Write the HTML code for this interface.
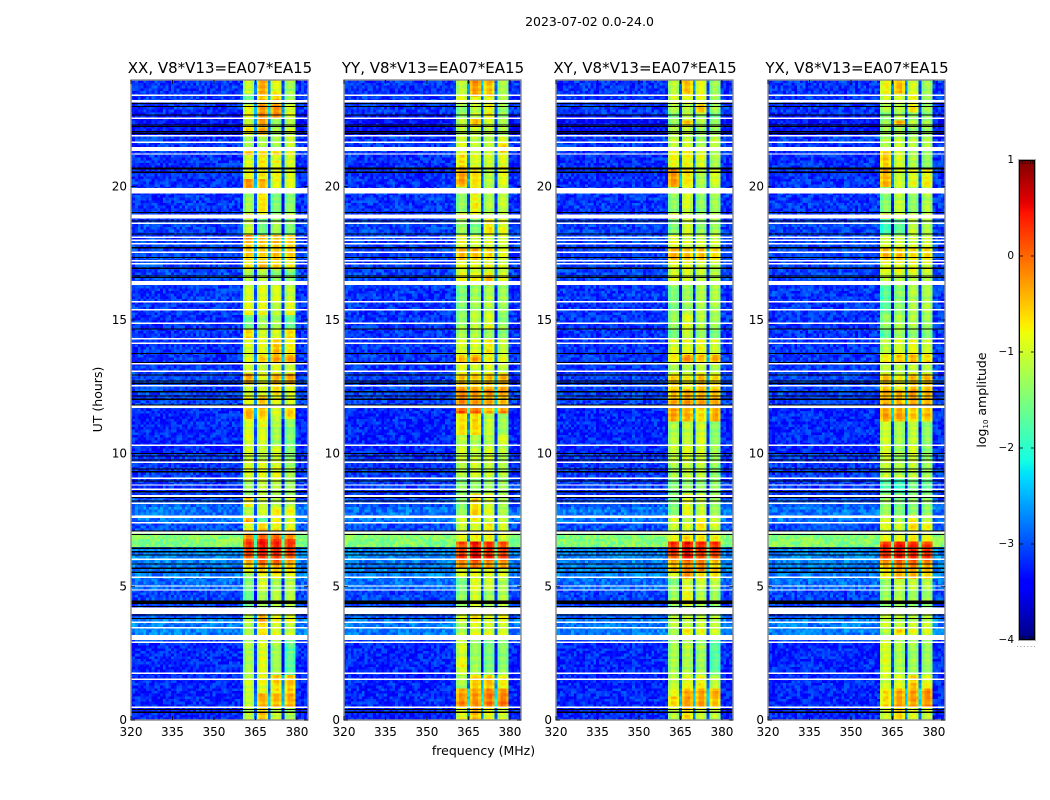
<!DOCTYPE html>
<html lang="en">
<head>
<meta charset="utf-8">
<title>2023-07-02 0.0-24.0 amplitude waterfall</title>
<style>
html,body{margin:0;padding:0;background:#fff;}
svg{display:block;}
text{font-family:"DejaVu Sans","Liberation Sans",sans-serif;fill:#000;}
</style>
</head>
<body>
<svg id="figure" xmlns="http://www.w3.org/2000/svg" width="1050" height="800" viewBox="0 0 1050 800">
  <rect x="0" y="0" width="1050" height="800" fill="#fff"/>
  <text x="589.5" y="26" font-size="12.5" text-anchor="middle">2023-07-02 0.0-24.0</text>
  <text transform="translate(102,399.5) rotate(-90)" font-size="12.5" text-anchor="middle">UT (hours)</text>
  <text x="483.5" y="755" font-size="12.5" text-anchor="middle">frequency (MHz)</text>
  <text transform="translate(986,400) rotate(-90)" font-size="12.5" text-anchor="middle">log<tspan font-size="7" dy="2">10</tspan><tspan dy="-2"> amplitude</tspan></text>
  <g id="panels"></g>
  <g id="colorbar"></g>
</svg>
<script>
/* ---------- chart data (in data units) ---------- */
const panelNames = ['XX', 'YY', 'XY', 'YX'];
const panelTitleSuffix = ', V8*V13=EA07*EA15';
const freqTicks = [320, 335, 350, 365, 380];
const utTicks = [0, 5, 10, 15, 20];
const colorTicks = [1, 0, -1, -2, -3, -4];
const colorTickLabels = ['1', '0', '\u22121', '\u22122', '\u22123', '\u22124'];

/* off-band log10 amplitude: [UT start, level] */
const offBandLevels = [
 [0,-3.2],[2.9,-3.05],[3.2,-2.75],[3.8,-2.95],[4.2,-3.05],[4.9,-2.85],[5.3,-2.75],[6.0,-2.7],[6.5,-1.45],
 [7.0,-3.0],[7.4,-2.8],[8.0,-2.95],[8.3,-3.1],[10.0,-3.2],[11.7,-3.05],[13.0,-3.12],[14.7,-3.12],
 [16.3,-3.05],[18.7,-3.12],[20.0,-3.15],[21.3,-3.1],[21.9,-3.32],[22.7,-3.12]
];

/* in-band levels: [UT start, sub-band 1, 2, 3, 4] */
const bandLevelsXX = [
 [0,-1.2,-0.6,-1.1,-1.3],[0.5,-1.1,-0.4,-0.45,-0.35],[1.0,-1.1,-0.95,-0.7,-0.55],[1.5,-1.15,-0.85,-0.5,-0.5],
 [1.7,-1.25,-0.95,-1.3,-1.75],[3.0,-1.3,-1.0,-1.0,-1.3],[3.2,-1.2,-0.7,-0.95,-1.1],[3.7,-1.2,-0.4,-0.85,-0.9],
 [4.2,-1.7,-1.3,-1.2,-1.2],[4.9,-1.5,-1.0,-1.3,-1.2],[5.3,-1.4,-0.85,-0.8,-0.8],[5.5,-0.8,-0.5,-0.5,-0.6],
 [5.8,-0.5,-0.05,-0.05,-0.4],[6.0,-0.3,0.0,0.05,-0.25],[6.15,0.1,0.2,0.15,0.1],[6.25,0.2,0.4,0.35,0.25],
 [6.85,-0.2,-0.1,-0.1,-0.3],[7.1,-0.9,-0.55,-0.8,-0.9],[7.4,-0.4,-1.6,-0.8,-1.0],
 [7.65,-1.2,-1.0,-0.8,-0.9],[8.0,-0.8,-1.1,-1.2,-1.2],[8.3,-0.6,-1.2,-1.3,-1.0],[8.4,-1.4,-1.1,-1.2,-1.3],
 [9.0,-1.0,-0.95,-0.95,-1.3],[9.7,-1.0,-1.1,-1.0,-1.4],[10.3,-1.0,-1.0,-1.3,-1.5],[11.0,-1.0,-0.9,-1.2,-1.4],
 [11.3,-0.4,-0.6,-1.0,-0.6],[11.7,-0.85,-0.5,-0.9,-1.0],[12.2,-1.1,-1.0,-0.75,-1.0],[12.6,-0.4,-0.9,-0.45,-0.4],
 [13.0,-1.0,-1.1,-0.9,-1.0],[13.4,-1.0,-0.55,-0.35,-0.3],[13.75,-1.0,-0.95,-0.55,-0.8],[14.3,-0.65,-1.0,-0.95,-0.65],
 [14.7,-1.6,-1.3,-1.3,-1.6],[15.2,-0.9,-0.9,-1.2,-0.9],[15.7,-1.0,-0.95,-0.95,-1.1],[16.3,-1.2,-1.1,-1.4,-1.5],
 [16.9,-0.8,-0.45,-0.7,-0.9],[17.2,-0.55,-0.6,-0.5,-0.6],[18.0,-0.25,-0.45,-0.5,-0.6],[18.2,-1.1,-1.6,-1.3,-1.5],
 [18.8,-0.8,-1.0,-1.3,-1.0],[19.0,-1.3,-0.7,-1.5,-1.4],[19.9,-0.3,-0.45,-0.9,-0.9],[20.3,-0.9,-0.8,-0.9,-1.0],
 [20.7,-0.95,-0.8,-0.9,-1.0],[21.2,-0.45,-0.6,-0.6,-0.9],[21.5,-1.3,-1.2,-1.3,-1.1],[21.9,-0.75,-0.4,-1.3,-1.1],
 [22.3,-1.1,-0.35,-1.3,-1.2],[22.6,-0.9,-0.25,-0.25,-0.95],[23.1,-1.6,-0.5,-0.6,-1.3],[23.5,-1.1,-0.4,-0.9,-1.3]
];
const bandLevelsYY = [
 [0,-0.9,-0.5,-0.85,-1.0],[0.5,-0.15,-0.2,-0.1,-0.1],[0.85,-0.35,-0.35,-0.15,-0.2],[1.2,-1.2,-0.55,-0.5,-0.75],
 [1.7,-1.0,-1.3,-1.5,-1.4],[2.0,-0.8,-1.3,-1.5,-1.4],[2.3,-1.0,-1.3,-1.5,-1.4],[3.2,-1.2,-0.9,-0.95,-0.95],
 [3.7,-1.0,-0.65,-1.0,-0.8],[4.2,-1.4,-1.0,-1.3,-1.2],[4.8,-1.5,-1.0,-1.3,-1.2],[4.9,-1.5,-0.9,-1.0,-1.2],
 [5.4,-0.9,-0.9,-0.9,-0.95],[5.75,-0.2,-0.1,-0.3,-0.3],[6.05,0.2,0.5,0.3,0.2],[6.5,0.05,0.4,0.25,0.05],
 [6.75,-0.9,-0.8,-0.8,-1.0],[7.0,0.1,0.15,0.1,0.05],[7.1,-1.1,-1.0,-0.8,-1.0],[7.45,-1.0,-0.8,-1.0,-1.1],
 [7.7,-1.4,-0.6,-0.95,-1.2],[8.5,-1.45,-1.4,-1.35,-1.35],[9.1,-1.2,-1.0,-1.1,-1.2],[9.7,-1.0,-1.1,-1.0,-1.2],
 [10.3,-1.1,-1.2,-1.2,-0.9],[10.7,-0.7,-0.65,-1.1,-1.3],[11.5,0.1,0.0,-0.4,-0.2],[11.7,-0.2,-0.3,-0.4,-0.5],
 [12.2,-0.1,-0.2,-0.1,-0.25],[12.45,-0.5,-0.55,-0.5,-0.4],[13.0,-0.95,-1.0,-1.0,-1.1],[13.4,-0.5,-0.35,-0.85,-0.95],
 [13.7,-1.0,-0.95,-0.75,-1.1],[14.3,-1.2,-1.2,-1.3,-1.4],[14.7,-1.35,-1.1,-0.95,-1.4],[15.3,-1.5,-1.3,-1.2,-1.3],
 [16.3,-0.8,-0.8,-0.5,-0.9],[16.7,-0.9,-0.9,-0.9,-1.0],[17.2,-0.45,-0.5,-0.65,-0.9],[17.7,-0.9,-1.0,-1.0,-1.0],
 [18.2,-1.3,-1.5,-0.7,-0.9],[18.8,-0.6,-0.85,-1.1,-1.1],[19.0,-1.35,-0.8,-1.2,-1.1],[20.0,-0.35,-0.7,-1.2,-0.9],
 [20.7,-0.7,-0.95,-1.0,-0.9],[21.3,-1.0,-1.1,-1.1,-0.6],[21.6,-1.0,-1.1,-1.1,-0.9],[21.9,-1.1,-1.0,-1.1,-1.2],
 [22.3,-1.1,-0.5,-1.0,-1.2],[22.6,-1.4,-1.1,-0.8,-1.35],[23.15,-0.85,-0.9,-0.9,-1.2],[23.45,-1.1,-0.3,-0.5,-1.2]
];
const bandLevelsXY = [
 [0,-1.1,-0.6,-1.0,-1.1],[0.5,-0.6,-0.3,-0.3,-0.5],[0.9,-0.9,-0.4,-0.4,-0.4],[1.2,-1.1,-0.85,-0.8,-1.1],
 [1.7,-1.25,-1.2,-1.3,-1.7],[3.2,-1.3,-0.8,-0.9,-1.0],[3.5,-1.1,-1.1,-1.1,-1.1],[4.0,-1.5,-1.3,-1.3,-1.5],
 [4.3,-1.3,-0.85,-1.2,-1.3],[5.0,-1.5,-1.0,-1.0,-1.1],[5.3,-1.0,-0.3,-0.7,-0.7],[5.6,-0.5,-0.2,-0.2,-0.6],
 [6.05,0.0,0.4,0.1,0.0],[6.25,0.35,0.5,0.35,0.3],[6.75,-0.9,-0.6,-0.7,-0.8],[7.0,0.1,0.1,0.1,0.1],
 [7.1,-1.1,-1.0,-0.7,-1.0],[7.45,-0.9,-1.2,-0.8,-1.0],[7.7,-1.5,-0.9,-1.1,-1.3],[8.5,-1.5,-1.4,-1.4,-1.4],
 [9.1,-1.25,-1.1,-1.1,-1.4],[9.7,-1.1,-0.95,-1.0,-1.3],[10.3,-1.2,-1.1,-1.0,-1.4],[11.25,-0.35,-0.4,-0.7,-0.4],
 [11.7,-0.45,-0.35,-0.35,-0.4],[12.45,-0.6,-0.8,-0.5,-0.65],[13.0,-1.2,-1.2,-1.1,-1.2],[13.4,-0.75,-0.25,-0.5,-0.4],
 [13.7,-0.95,-0.9,-0.85,-1.0],[14.3,-1.5,-1.0,-1.3,-1.5],[14.7,-1.35,-0.95,-1.2,-1.3],[15.3,-1.5,-1.3,-1.2,-1.2],
 [16.3,-1.0,-1.1,-1.2,-1.2],[16.7,-0.9,-0.9,-1.0,-1.1],[17.2,-0.45,-0.55,-0.55,-0.7],[17.7,-0.85,-1.0,-1.0,-1.0],
 [18.2,-1.5,-1.0,-1.4,-1.3],[18.8,-0.7,-1.0,-1.2,-1.1],[19.0,-1.4,-1.0,-1.4,-1.3],[20.0,-0.25,-0.7,-1.2,-0.95],
 [20.7,-0.85,-0.8,-0.95,-1.2],[21.5,-1.1,-1.1,-1.3,-1.1],[21.9,-1.2,-1.1,-1.3,-1.3],[22.3,-1.3,-0.4,-1.2,-1.3],
 [22.5,-1.4,-1.1,-1.2,-1.5],[22.8,-1.2,-1.2,-0.5,-1.3],[23.15,-1.0,-0.9,-0.9,-1.3],[23.5,-1.1,-0.45,-0.85,-1.3]
];
const bandLevelsYX = [
 [0,-1.0,-0.6,-0.9,-1.0],[0.5,-0.7,-0.35,-0.35,-0.25],[1.2,-1.0,-0.9,-0.55,-0.9],[1.7,-0.95,-1.2,-1.3,-1.3],
 [3.2,-1.2,-0.7,-0.9,-1.0],[3.5,-1.0,-1.1,-1.1,-1.1],[4.0,-1.5,-1.4,-1.4,-1.5],[4.3,-1.3,-1.2,-1.3,-1.3],
 [4.9,-1.4,-1.1,-1.1,-1.2],[5.3,-0.8,-0.4,-0.5,-0.6],[5.7,-0.4,-0.1,-0.1,-0.35],[6.05,0.3,0.45,0.35,0.25],
 [6.75,-0.9,-0.9,-0.8,-0.9],[7.0,-0.2,-0.2,-0.2,-0.2],[7.1,-0.9,-1.0,-0.6,-0.8],[7.45,-0.9,-1.2,-0.8,-1.1],
 [7.7,-1.3,-1.5,-1.4,-1.4],[8.5,-1.7,-1.9,-1.5,-1.6],[9.1,-1.1,-1.2,-1.1,-1.3],[9.7,-1.0,-1.3,-1.0,-1.4],
 [10.3,-1.0,-1.2,-1.1,-1.4],[11.25,-0.35,-0.35,-0.6,-0.5],[11.7,-0.4,-0.45,-0.35,-0.45],[12.45,-0.5,-0.8,-0.5,-0.5],
 [13.0,-1.1,-1.2,-1.1,-1.2],[13.4,-0.7,-0.5,-0.4,-0.6],[13.7,-1.1,-0.95,-0.8,-1.0],[14.3,-1.7,-1.3,-1.4,-1.5],
 [14.7,-1.35,-1.2,-1.2,-1.3],[15.3,-1.7,-1.4,-1.2,-1.2],[16.3,-1.1,-1.1,-1.1,-1.2],[16.7,-0.9,-0.9,-0.9,-1.0],
 [17.2,-0.5,-0.55,-0.7,-0.7],[17.7,-0.95,-1.0,-1.0,-1.0],[18.2,-1.9,-1.7,-1.1,-1.2],[18.8,-0.7,-1.0,-1.0,-1.0],
 [19.0,-1.45,-1.1,-1.4,-1.2],[20.0,-0.4,-1.0,-0.9,-0.8],[20.7,-0.55,-0.95,-1.2,-1.35],[21.5,-1.2,-1.1,-1.2,-1.2],
 [21.9,-1.2,-1.2,-1.3,-1.3],[22.3,-1.3,-0.4,-1.2,-1.3],[22.5,-1.4,-1.2,-1.3,-1.4],[22.8,-1.2,-1.2,-0.75,-1.3],
 [23.15,-1.0,-1.0,-0.8,-1.3],[23.5,-0.85,-0.5,-1.0,-1.3]
];

/* flagged (no data) UT spans, hours */
const whiteFlags = [
 [0.45,0.5],[1.5,1.55],[1.725,1.775],[2.89,2.94],[3.0,3.19],[3.44,3.49],[3.64,3.69],[3.975,4.21],[4.85,4.9],[5.0,5.05],
 [5.33,5.38],[6.0,6.05],[7.0,7.06],[7.38,7.43],[7.58,7.66],[8.1,8.15],[8.36,8.44],[8.63,8.68],[8.79,8.84],[9.04,9.09],
 [9.64,9.69],[10.28,10.33],[11.7,11.8],[12.51,12.56],[13.06,13.11],[13.33,13.38],[14.11,14.16],[14.28,14.33],[14.86,14.91],
 [15.36,15.41],[15.66,15.71],[16.31,16.46],[17.08,17.13],[17.2,17.25],[17.51,17.56],[17.84,17.89],[17.97,18.02],[18.08,18.13],
 [18.6,18.65],[18.81,18.95],[19.75,19.95],[21.2,21.25],[21.33,21.49],[21.64,21.69],[21.88,21.93],[22.54,22.59],[23.15,23.25],[23.41,23.46]
];
const blackFlags = [
 0.29,0.4,3.81,3.94,4.25,4.38,4.42,4.47,5.54,5.69,5.85,6.19,6.31,6.44,6.96,7.09,8.21,8.34,8.56,8.97,9.31,9.41,9.75,9.9,10.0,
 11.81,12.03,12.15,12.31,12.63,12.72,12.94,13.4,13.75,14.67,16.6,16.65,16.94,17.35,17.71,18.23,18.71,19.03,20.54,20.66,20.7,
 22.0,22.06,22.25,22.31,22.69,23.0,23.12
];

/* per-channel offset inside a sub-band (estimated) */
const subBandShape = [-0.2, 0.08, 0.08, -0.15];
/* hand-typed speckle and row ripple textures: stylised, not per-cell readings */
const speckle = [0.3,-0.7,0.9,-0.2,-0.9,0.5,0.1,-0.4,0.8,-0.6,0.2,-1,0.6,0.4,-0.3,0.7,-0.8,0,0.95,-0.5,
 -0.1,0.45,-0.75,0.65,0.15,-0.95,0.35,-0.25,0.85,-0.55,0.05,-0.35,1,-0.65,0.55,-0.15,-0.85,0.25,0.75,-0.45,
 -0.05,0.4,-0.6,0.7,-0.9,0.1,-0.3];
const rowRipple = [0.08,-0.05,0.12,-0.1,0.02,0.1,-0.12,0.04,-0.02,0.09,-0.08,0.06,-0.11,0.03,0.11,-0.06,0,-0.09,0.07,-0.03,0.1,-0.07,0.05];

/* ---------- axes ---------- */
const panelLeft = [131, 344, 556, 768];
const plotW = 177, plotTop = 80, plotBottom = 720;
const FREQ_MIN = 320, FREQ_MAX = 384, UT_MAX = 24, V_MIN = -4, V_MAX = 1;
const ROW_H = 0.1, ROWS = 240;
const CB_X = 1019, CB_W = 16, CB_TOP = 160, CB_BOTTOM = 640;
function xScale(f, left) { return left + (f - FREQ_MIN) / (FREQ_MAX - FREQ_MIN) * plotW; }
function yScale(h) { return plotBottom - h / UT_MAX * (plotBottom - plotTop); }
function cbScale(v) { return CB_BOTTOM - (v - V_MIN) / (V_MAX - V_MIN) * (CB_BOTTOM - CB_TOP); }

function ramp(t, pts) {
  if (t <= pts[0][0]) return pts[0][1];
  for (let i = 1; i < pts.length; i++) {
    if (t <= pts[i][0]) {
      const a = pts[i - 1], b = pts[i];
      return a[1] + (t - a[0]) / (b[0] - a[0]) * (b[1] - a[1]);
    }
  }
  return pts[pts.length - 1][1];
}
function jet(v) {
  const t = Math.max(0, Math.min(1, (v - V_MIN) / (V_MAX - V_MIN)));
  const r = ramp(t, [[0, 0], [0.35, 0], [0.66, 1], [0.89, 1], [1, 0.5]]);
  const g = ramp(t, [[0, 0], [0.125, 0], [0.375, 1], [0.64, 1], [0.91, 0], [1, 0]]);
  const b = ramp(t, [[0, 0.5], [0.11, 1], [0.34, 1], [0.65, 0], [1, 0]]);
  return 'rgb(' + Math.round(r * 255) + ',' + Math.round(g * 255) + ',' + Math.round(b * 255) + ')';
}
function segmentAt(segments, h) {
  let found = segments[0];
  for (let i = 0; i < segments.length; i++) { if (segments[i][0] <= h) found = segments[i]; }
  return found;
}
function subBandOf(c) {
  if (c >= 41 && c <= 44) return 0;
  if (c >= 46 && c <= 49) return 1;
  if (c >= 51 && c <= 54) return 2;
  if (c >= 56 && c <= 59) return 3;
  return -1;
}
function isNotch(c) { return c === 45 || c === 50 || c === 55; }
function cellValue(bands, c, r, p, h) {
  const sp = speckle[(r * r * 7 + c * c * 11 + r * c * 3 + r * 17 + c * 5 + p * 23) % speckle.length];
  const seg = segmentAt(bands, h);
  const sub = subBandOf(c);
  if (sub >= 0) {
    return seg[sub + 1] + subBandShape[(c - 41) % 5] + rowRipple[(r + p * 5) % rowRipple.length] + sp * 0.1;
  }
  if (isNotch(c)) {
    const idx = (c - 45) / 5;
    return (seg[idx + 1] + seg[idx + 2]) / 2 - 2.0 + sp * 0.15;
  }
  return segmentAt(offBandLevels, h)[1] + sp * 0.3;
}

const SVGNS = 'http://www.w3.org/2000/svg';
function make(tag, attrs) {
  const el = document.createElementNS(SVGNS, tag);
  for (const k in attrs) el.setAttribute(k, attrs[k]);
  return el;
}

/* ---------- panels ---------- */
const allBands = [bandLevelsXX, bandLevelsYY, bandLevelsXY, bandLevelsYX];
const panelsRoot = document.getElementById('panels');
const defs = make('defs', {});
panelsRoot.appendChild(defs);

panelNames.forEach(function (name, p) {
  const left = panelLeft[p];
  const bands = allBands[p];
  const frag = document.createDocumentFragment();

  const clip = make('clipPath', { id: 'clip-' + name });
  clip.appendChild(make('rect', { x: left, y: plotTop, width: plotW, height: plotBottom - plotTop }));
  defs.appendChild(clip);

  const g = make('g', { 'clip-path': 'url(#clip-' + name + ')', 'shape-rendering': 'crispEdges' });
  
  

  for (let r = 0; r < ROWS; r++) {
    const h0 = r * ROW_H, h1 = h0 + ROW_H;
    const y1 = yScale(h1), y0 = yScale(h0);
    for (let c = 0; c < 65; c++) {
      const x0 = xScale(FREQ_MIN + c - 0.5, left), x1 = xScale(FREQ_MIN + c + 0.5, left);
      const cell = make('rect', { x: x0.toFixed(2), y: y1.toFixed(2), width: (x1 - x0 + 0.4).toFixed(2), height: (y0 - y1 + 0.4).toFixed(2), fill: jet(cellValue(bands, c, r, p, h0 + ROW_H / 2)) });
      
      
      g.appendChild(cell);
    }
  }

  blackFlags.forEach(function (h) {
    const band = make('rect', { x: left, y: yScale(h + 0.02).toFixed(2), width: plotW, height: 1.1, fill: '#000' });
    
    
    g.appendChild(band);
  });
  whiteFlags.forEach(function (span) {
    const yTop = yScale(span[1]), yBot = yScale(span[0]);
    const band = make('rect', { x: left, y: yTop.toFixed(2), width: plotW, height: Math.max(1.4, yBot - yTop).toFixed(2), fill: '#fff' });
    
    
    g.appendChild(band);
  });
  frag.appendChild(g);

  const frame = make('rect', { x: left, y: plotTop, width: plotW, height: plotBottom - plotTop, fill: 'none', stroke: '#8c8c8c', 'stroke-width': 1.4 });
  
  
  frag.appendChild(frame);

  const title = make('text', { x: left + plotW / 2 + 0.5, y: 73, 'font-size': 15, 'text-anchor': 'middle' });
  
  
  title.textContent = name + panelTitleSuffix;
  frag.appendChild(title);

  freqTicks.forEach(function (f) {
    const x = xScale(f, left);
    [[plotBottom, plotBottom - 4], [plotTop, plotTop + 4]].forEach(function (e) {
      const t = make('line', { x1: x, x2: x, y1: e[0], y2: e[1], stroke: '#000', 'stroke-width': 0.8 });
      
      
      frag.appendChild(t);
    });
    const lab = make('text', { x: x, y: 736, 'font-size': 12, 'text-anchor': 'middle' });
    
    
    lab.textContent = String(f);
    frag.appendChild(lab);
  });

  utTicks.forEach(function (h) {
    const y = yScale(h);
    [[left, left + 4], [left + plotW, left + plotW - 4]].forEach(function (e) {
      const t = make('line', { x1: e[0], x2: e[1], y1: y, y2: y, stroke: '#000', 'stroke-width': 0.8 });
      
      
      frag.appendChild(t);
    });
    const lab = make('text', { x: left - 4, y: y + 4, 'font-size': 12, 'text-anchor': 'end' });
    
    
    lab.textContent = String(h);
    frag.appendChild(lab);
  });

  panelsRoot.appendChild(frag);
});

/* ---------- colorbar ---------- */
const cbRoot = document.getElementById('colorbar');
const cbGroup = make('g', { 'shape-rendering': 'crispEdges' });


for (let i = 0; i < 256; i++) {
  const v0 = V_MIN + i / 256 * (V_MAX - V_MIN), v1 = V_MIN + (i + 1) / 256 * (V_MAX - V_MIN);
  const step = make('rect', { x: CB_X, y: cbScale(v1).toFixed(2), width: CB_W, height: (cbScale(v0) - cbScale(v1) + 0.5).toFixed(2), fill: jet((v0 + v1) / 2) });
  
  
  cbGroup.appendChild(step);
}
cbRoot.appendChild(cbGroup);

const cbEdge = make('rect', { x: CB_X + 0.5, y: CB_TOP + 0.5, width: CB_W - 1, height: CB_BOTTOM - CB_TOP - 1, fill: 'none', stroke: '#000', 'stroke-width': 1 });


cbRoot.appendChild(cbEdge);
const cbFrame = make('rect', { x: CB_X - 0.5, y: CB_TOP - 0.5, width: CB_W + 1, height: CB_BOTTOM - CB_TOP + 1, fill: 'none', stroke: '#aaa', 'stroke-width': 1 });


cbRoot.appendChild(cbFrame);

colorTicks.forEach(function (v, i) {
  const y = cbScale(v);
  if (v !== V_MIN && v !== V_MAX) {
    [[CB_X, CB_X + 4], [CB_X + CB_W, CB_X + CB_W - 4]].forEach(function (e) {
      const t = make('line', { x1: e[0], x2: e[1], y1: y, y2: y, stroke: '#000', 'stroke-width': 0.8 });
      
      
      cbRoot.appendChild(t);
    });
  }
  const lab = make('text', { x: 1014, y: y + 3, 'font-size': 10.5, 'text-anchor': 'end' });
  
  
  lab.textContent = colorTickLabels[i];
  cbRoot.appendChild(lab);
});

[CB_TOP, CB_BOTTOM].forEach(function (y) {
  const sign = y === CB_TOP ? 1 : -1;
  for (let k = 1; k <= 5; k++) {
    const x = CB_X + 1 + k * 2.6;
    const t = make('line', { x1: x, x2: x, y1: y, y2: y + sign * 4, stroke: '#000', 'stroke-width': 0.6 });
    
    
    cbRoot.appendChild(t);
  }
});

const cbDots = make('line', { x1: 1017, x2: 1035, y1: 646.5, y2: 646.5, stroke: '#999', 'stroke-width': 1, 'stroke-dasharray': '1 2.4' });


cbRoot.appendChild(cbDots);
</script>
</body>
</html>
